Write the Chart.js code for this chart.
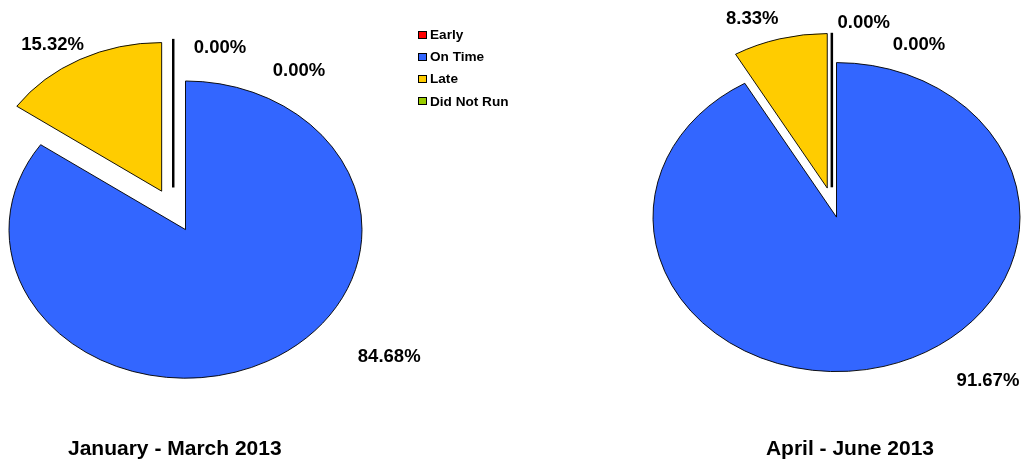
<!DOCTYPE html>
<html>
<head>
<meta charset="utf-8">
<script src="https://cdn.jsdelivr.net/npm/chart.js@4.4.1/dist/chart.umd.min.js"></script>
<style>
  html, body { margin: 0; padding: 0; background: #fff; }
  body { width: 1029px; height: 462px; position: relative; overflow: hidden; font-family: "Liberation Sans", Arial, sans-serif; }
  .pane { position: absolute; top: 0; height: 462px; }
  #q1 { left: 0; width: 440px; }
  #q2 { left: 590px; width: 439px; }
  #legend { position: absolute; left: 418px; top: 23.5px; margin: 0; padding: 0; list-style: none; }
  #legend li { display: flex; align-items: center; height: 22.2px; font: bold 13.6px "Liberation Sans", Arial, sans-serif; color: #000; white-space: nowrap; }
  #legend li span { box-sizing: border-box; width: 9px; height: 8px; border: 1px solid #000; margin-right: 3px; }
</style>
</head>
<body>
<div class="pane" id="q1"><canvas id="c1"></canvas></div>
<div class="pane" id="q2"><canvas id="c2"></canvas></div>
<ul id="legend"></ul>
<script>
// Service punctuality by quarter (% of trips)
const categories = ['Early', 'On Time', 'Late', 'Did Not Run'];
const sliceColors = ['#FF0000', '#3366FF', '#FFCC00', '#99CC00'];
const janMarValues = [0, 84.68, 15.32, 0];
const aprJunValues = [0, 91.67, 8.33, 0];
const periodTitles = ['January - March 2013', 'April - June 2013'];

const FONT = '"Liberation Sans", Arial, sans-serif';

// Per-slice geometry: centre, radius, angles and the explode vector (unscaled)
function sliceGeometry(chart, opts) {
  const arcs = chart.getDatasetMeta(0).data;
  let prevMid = null;
  return arcs.map((arc, i) => {
    const p = arc.getProps(['x', 'y', 'startAngle', 'endAngle', 'outerRadius', 'circumference'], true);
    const mid = (p.startAngle + p.endAngle) / 2;
    // a zero-width slice leans halfway back toward the slice before it
    const dir = p.circumference === 0 && prevMid !== null ? (prevMid + p.startAngle) / 2 : mid;
    const d = (opts.explode && opts.explode[i]) || 0;
    if (p.circumference > 0) prevMid = mid;
    return { arc, x: p.x, y: p.y, r: p.outerRadius, start: p.startAngle, mid, circ: p.circumference,
             ex: Math.cos(dir) * d, ey: Math.sin(dir) * d };
  });
}

// Pie seen at an angle: squashed vertically, with exploded slices and value labels
const tiltedPie = {
  id: 'tiltedPie',
  beforeDatasetsDraw(chart, args, opts) {
    const ctx = chart.ctx;
    const tilt = opts.tilt;
    const ds = chart.data.datasets[0];
    sliceGeometry(chart, opts).forEach((g) => {
      if (g.circ > 0) {
        ctx.save();
        ctx.translate(g.x, g.y);
        ctx.scale(1, tilt);
        ctx.translate(g.ex - g.x, g.ey - g.y);
        g.arc.draw(ctx);
        ctx.restore();
      } else if (g.ex || g.ey) {
        // an exploded empty slice shows only as its edge
        const x0 = g.x + g.ex, y0 = g.y + g.ey * tilt;
        ctx.save();
        ctx.strokeStyle = ds.borderColor;
        ctx.lineWidth = opts.emptyEdgeWidth;
        ctx.beginPath();
        ctx.moveTo(x0, y0);
        ctx.lineTo(x0 + Math.cos(g.start) * g.r, y0 + Math.sin(g.start) * g.r * tilt);
        ctx.stroke();
        ctx.restore();
      }
    });
    return false;
  },
  afterDraw(chart, args, opts) {
    const ctx = chart.ctx;
    const tilt = opts.tilt;
    const values = chart.data.datasets[0].data;
    ctx.save();
    ctx.font = opts.labelFont;
    ctx.fillStyle = '#000';
    ctx.textAlign = 'center';
    ctx.textBaseline = 'middle';
    sliceGeometry(chart, opts).forEach((g, i) => {
      const ax = g.x + g.ex + Math.cos(g.mid) * g.r;
      const ay = g.y + (g.ey + Math.sin(g.mid) * g.r) * tilt;
      const s = opts.labelShift[i];
      ctx.fillText(values[i].toFixed(2) + '%', ax + s[0], ay + s[1]);
    });
    ctx.restore();
  }
};

// Legend list built from the chart's own legend items
const htmlLegend = {
  id: 'htmlLegend',
  afterUpdate(chart, args, opts) {
    if (!opts.containerID) return;
    const list = document.getElementById(opts.containerID);
    list.innerHTML = '';
    chart.options.plugins.legend.labels.generateLabels(chart).forEach(item => {
      const li = document.createElement('li');
      const box = document.createElement('span');
      box.style.background = item.fillStyle;
      box.style.borderColor = '#000';
      li.appendChild(box);
      li.appendChild(document.createTextNode(item.text));
      list.appendChild(li);
    });
  }
};

function pieConfig(values, title, cfg) {
  return {
    type: 'pie',
    data: {
      labels: categories,
      datasets: [{
        data: values,
        backgroundColor: sliceColors,
        borderColor: '#000',
        borderWidth: 1,
        radius: cfg.radius,
        clip: false
      }]
    },
    options: {
      responsive: true,
      maintainAspectRatio: false,
      animation: false,
      events: [],
      layout: { padding: cfg.padding },
      plugins: {
        legend: { display: false },
        tooltip: { enabled: false },
        title: {
          display: true,
          text: title,
          position: 'bottom',
          align: cfg.titleAlign,
          color: '#000',
          font: { family: FONT, size: 21, weight: 'bold', lineHeight: 1.2 },
          padding: { top: cfg.titleGap, bottom: 0 }
        },
        tiltedPie: {
          tilt: 0.842,
          explode: cfg.explode,
          emptyEdgeWidth: 2.5,
          labelFont: 'bold 18.5px ' + FONT,
          labelShift: cfg.labelShift
        },
        htmlLegend: { containerID: cfg.legendID }
      }
    },
    plugins: [tiltedPie, htmlLegend]
  };
}

new Chart(document.getElementById('c1'), pieConfig(janMarValues, periodTitles[0], {
  radius: 176.5,
  padding: { left: 68, right: 137, top: 22.4, bottom: 0 },
  titleAlign: 'start',
  titleGap: 0,
  explode: [0, 0, 51.5, 51.5],
  labelShift: [[113.5, -9.9], [122, -4], [-27.4, -14.7], [46.8, 9.5]],
  legendID: 'legend'
}));

new Chart(document.getElementById('c2'), pieConfig(aprJunValues, periodTitles[1], {
  radius: 183.5,
  padding: { left: 149, right: 95, top: 0, bottom: 0 },
  titleAlign: 'end',
  titleGap: 2.6,
  explode: [0, 0, 35.7, 35.7],
  labelShift: [[82.5, -17.8], [104, 15], [-27.6, -19.9], [31.9, -9.7]],
  legendID: null
}));
</script>
</body>
</html>
